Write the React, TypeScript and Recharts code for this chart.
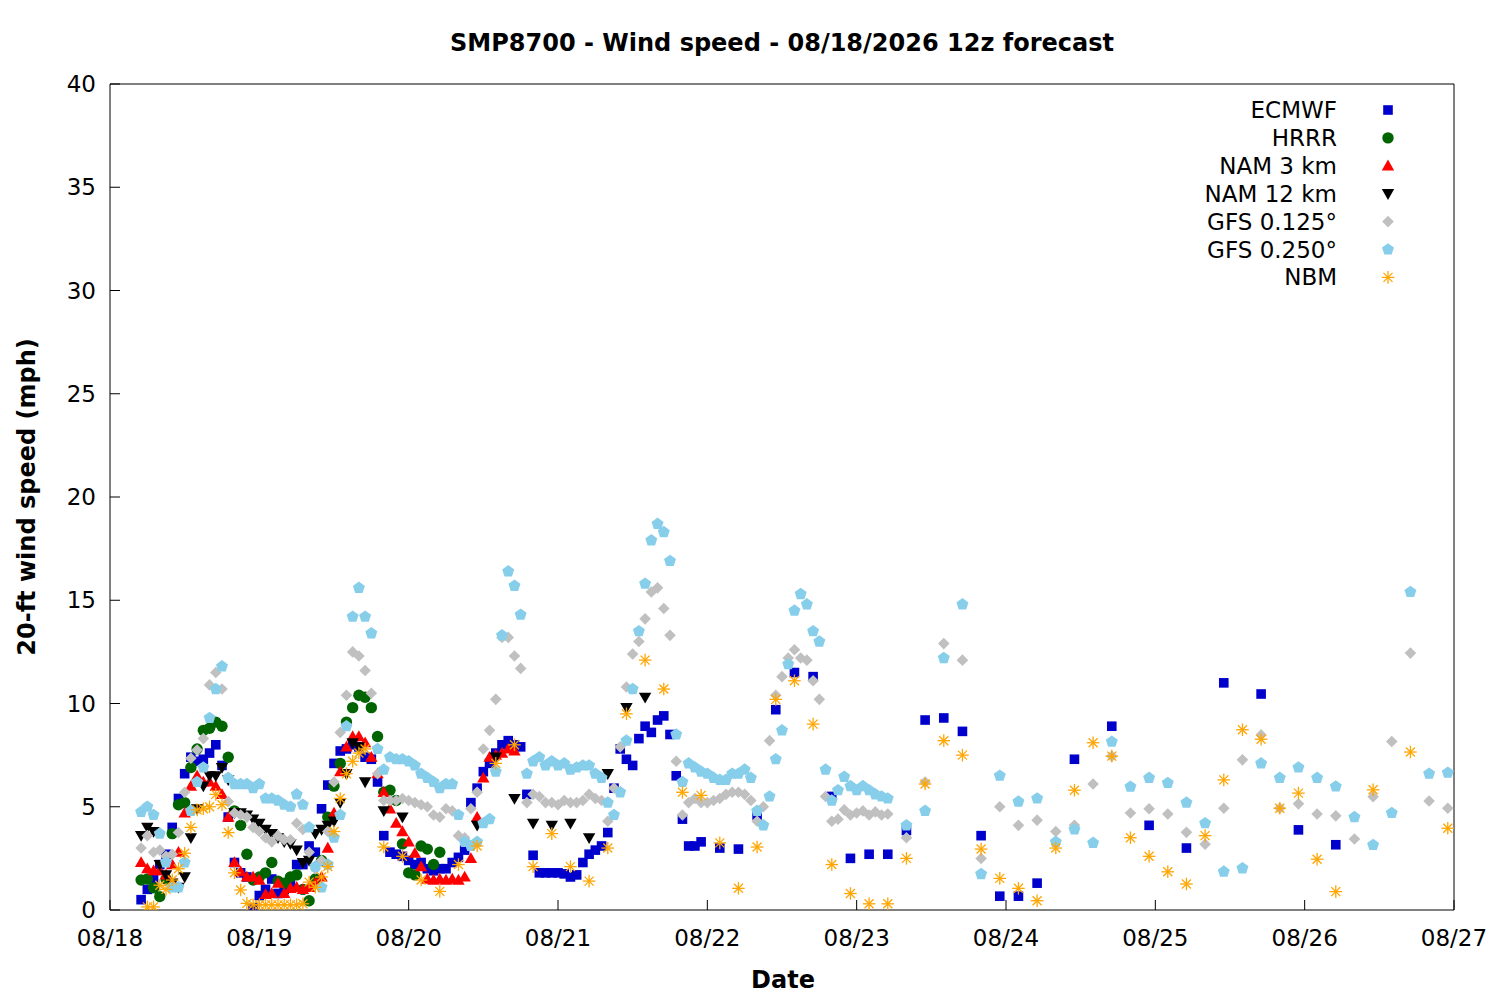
import { ScatterChart, Scatter, XAxis, YAxis, Legend } from "recharts";

// time axis: hours since 08/18 00:00 local
const dayTicks = [0, 24, 48, 72, 96, 120, 144, 168, 192, 216];
const dayLabels = ["08/18", "08/19", "08/20", "08/21", "08/22", "08/23", "08/24", "08/25", "08/26", "08/27"];
const speedTicks = [0, 5, 10, 15, 20, 25, 30, 35, 40];

// ECMWF: hourly from h5, then 3-hourly from h98, then 6-hourly from h155
const ecmwfHourly = [
  0.5, 1.0, 1.5, 2.2, 2.7, 4.0, 5.4, 6.6, 7.4, 7.2,
  7.3, 7.6, 8.0, 7.0, 4.5, 2.3, 1.8, 1.6, 0.1, 0.7,
  1.0, 1.5, 0.8, 1.0, 1.3, 2.2, 2.2, 3.1, 2.8, 4.9,
  6.05, 7.1, 7.7, 7.8, 8.0, 7.9, 7.4, 7.3, 6.2, 3.6,
  2.8, 2.7, 2.6, 2.4, 2.2, 2.3, 2.0, 1.9, 2.0, 2.0,
  2.3, 2.55, 2.9, 5.2, 5.9, 6.7, 7.1, 7.6, 8.0, 8.2,
  8.0, 7.9, 5.6, 2.65, 1.8, 1.8, 1.8, 1.8, 1.75, 1.6,
  1.7, 2.3, 2.7, 2.9, 3.1, 3.75, 5.9, 7.8, 7.3, 7.0,
  8.3, 8.9, 8.6, 9.2, 9.4, 8.5, 6.5, 4.4, 3.1, 3.1,
  3.3,
];
const ecmwf3h = [3.0, 2.95, 4.6, 9.7, 11.5, 11.3, 5.5, 2.5, 2.7, 2.7, 3.85, 9.2, 9.3, 8.65, 3.6, 0.67, 0.67, 1.3];
const ecmwf6h = [7.3, 8.9, 4.1, 3.0, 11.0, 10.46, 3.88, 3.16];

// HRRR: hourly from h5
const hrrrHourly = [
  1.45, 1.5, 1.07, 0.65, 1.5, 3.7, 5.1, 5.2, 6.9, 7.8,
  8.7, 8.8, 9.1, 8.9, 7.4, 4.8, 4.1, 2.7, 1.45, 1.6,
  1.8, 2.3, 1.4, 1.3, 1.6, 1.7, 1.0, 0.45, 1.5, 2.4,
  4.5, 6.0, 7.1, 9.1, 9.8, 10.4, 10.3, 9.8, 8.4, 5.7,
  5.8, 5.3, 3.2, 1.8, 1.7, 3.1, 2.95, 2.2, 2.8,
];

// NAM 3 km: hourly from h5
const nam3Hourly = [
  2.3, 2.0, 1.9, 1.9, 1.7, 2.2, 2.8, 4.7, 6.0, 6.5,
  6.2, 6.2, 6.0, 5.6, 4.5, 2.3, 1.86, 1.6, 1.6, 1.45,
  0.75, 0.8, 1.3, 0.8, 1.05, 1.1, 1.0, 1.1, 1.3, 1.6,
  3.0, 4.7, 6.7, 7.9, 8.4, 8.4, 8.1, 7.4, 6.6, 5.7,
  4.9, 4.2, 3.8, 3.3, 2.75, 2.1, 1.5, 1.45, 1.5, 1.45,
  1.5, 1.45, 1.6, 2.5, 4.5, 6.4, 7.4, 7.5, 7.6, 7.8,
  7.7,
];

// NAM 12 km: hourly from h5, then 3-hourly points
const nam12Hourly = [
  3.6, 4.0, 3.8, 2.2, 1.7, 1.3, 1.1, 1.6, 3.5, 4.9,
  6.0, 6.5, 6.5, 6.9, 6.3, 4.7, 4.7, 4.6, 4.4, 4.2,
  3.9, 3.7, 3.5, 3.3, 3.2, 2.9, 2.3, 2.4, 3.7, 3.9,
  4.1, 4.3, 5.2, 6.6, 8.1, 7.9, 6.2,
];
const nam12LateHours = [44, 47, 59, 62, 65, 68, 71, 74, 77, 80, 83, 86];
const nam12LateValues = [4.8, 4.5, 4.1, 7.4, 5.4, 4.2, 4.1, 4.2, 3.5, 6.6, 9.8, 10.3];

// GFS 0.125: hourly from h5, 3-hourly from h128
const gfs125Hourly = [
  3.0, 3.6, 2.8, 2.9, 2.6, 2.7, 3.75, 5.7, 7.35, 7.75,
  8.3, 10.9, 11.5, 10.7, 5.25, 4.7, 4.6, 4.5, 4.0, 3.8,
  3.5, 3.3, 3.6, 3.4, 3.4, 4.2, 3.9, 2.8, 2.0, 2.4,
  3.8, 6.2, 8.6, 10.4, 12.5, 12.3, 11.6, 10.5, 6.6, 5.3,
  5.3, 5.3, 5.4, 5.3, 5.2, 5.1, 5.0, 4.6, 4.5, 4.9,
  4.8, 3.6, 3.5, 4.9, 5.7, 7.8, 8.7, 10.2, 13.2, 13.2,
  12.3, 11.7, 5.2, 5.6, 5.5, 5.2, 5.2, 5.1, 5.3, 5.2,
  5.2, 5.3, 5.6, 5.4, 5.3, 4.3, 5.9, 7.9, 10.8, 12.4,
  13.0, 14.1, 15.4, 15.6, 14.6, 13.3, 7.2, 4.6, 5.2, 5.4,
  5.2, 5.2, 5.3, 5.4, 5.6, 5.7, 5.7, 5.6, 5.3, 4.3,
  5.0, 8.2, 10.4, 11.3, 12.2, 12.6, 12.2, 12.1, 11.1, 10.2,
  5.5, 4.3, 4.4, 4.85, 4.6, 4.7, 4.8, 4.6, 4.75, 4.6,
  4.65,
];
const gfs125_3h = [
  3.5, 6.2, 12.9, 12.1, 2.5, 5.0, 4.1, 4.35, 3.8, 4.1,
  6.1, 7.45, 4.7, 4.9, 4.65, 3.76, 3.19, 4.93, 7.27, 8.48,
  4.93, 5.14, 4.65, 4.56, 3.44, 5.49, 8.16, 12.44, 5.28, 4.93,
];

// GFS 0.250: hourly from h5, 3-hourly from h128
const gfs250Hourly = [
  4.75, 5.0, 4.6, 3.7, 2.3, 1.1, 1.1, 2.3, 4.8, 6.2,
  6.9, 9.3, 10.7, 11.8, 6.4, 6.1, 6.1, 6.1, 5.9, 6.1,
  5.4, 5.4, 5.3, 5.1, 5.0, 5.6, 5.1, 4.0, 2.1, 1.1,
  2.2, 3.5, 4.6, 8.9, 14.2, 15.6, 14.2, 13.4, 7.8, 6.8,
  7.4, 7.3, 7.3, 7.2, 7.0, 6.6, 6.4, 6.2, 5.9, 6.1,
  6.1, 4.6, 3.3, 3.1, 3.3, 4.2, 4.4, 6.7, 13.3, 16.4,
  15.7, 14.3, 6.6, 7.2, 7.4, 7.0, 7.2, 7.0, 7.1, 6.8,
  6.9, 7.0, 7.0, 6.6, 6.4, 5.2, 4.6, 5.7, 8.2, 10.7,
  13.5, 15.8, 17.9, 18.7, 18.3, 16.9, 8.5, 6.2, 7.1, 6.9,
  6.7, 6.6, 6.4, 6.3, 6.3, 6.6, 6.6, 6.8, 6.4, 4.8,
  4.1, 5.5, 7.3, 8.7, 11.9, 14.5, 15.3, 14.8, 13.5, 13.0,
  6.8, 5.3, 5.8, 6.45, 6.0, 5.8, 6.0, 5.8, 5.6, 5.5,
  5.4,
];
const gfs250_3h = [
  4.1, 4.8, 12.2, 14.8, 1.74, 6.5, 5.25, 5.4, 3.3, 3.9,
  3.25, 8.15, 5.97, 6.4, 6.15, 5.2, 4.2, 1.86, 2.02, 7.1,
  6.4, 6.9, 6.4, 5.98, 4.5, 3.15, 4.7, 15.4, 6.6, 6.65,
];

// NBM: hourly from h6, 3-hourly from h44, 6-hourly from h203
const nbmHourly = [
  0.15, 0.15, 1.2, 1.0, 1.45, 2.0, 2.75, 4.0, 4.85, 4.9,
  5.0, 5.6, 5.1, 3.75, 1.8, 0.97, 0.32, 0.25, 0.25, 0.25,
  0.25, 0.25, 0.25, 0.25, 0.25, 0.3, 1.35, 1.1, 1.6, 2.1,
  3.8, 5.4, 6.6, 7.2, 7.6, 7.8,
];
const nbm3h = [
  3.05, 2.6, 1.45, 0.9, 2.2, 3.1, 7.1, 8.0, 2.1, 3.7,
  2.1, 1.4, 3.0, 9.5, 12.1, 10.7, 5.7, 5.55, 3.25, 1.05,
  3.05, 10.2, 11.1, 9.0, 2.2, 0.8, 0.3, 0.3, 2.5, 6.1,
  8.2, 7.5, 2.95, 1.53, 1.05, 0.45, 3.0, 5.8, 8.1, 7.45,
  3.5, 2.6, 1.85, 1.26, 3.6, 6.3, 8.73, 8.27, 4.93, 5.66,
  2.46, 0.89,
];
const nbm6h = [5.82, 7.65, 3.96];

type Pt = { h: number; v: number };
const run = (start: number, step: number, values: number[]): Pt[] =>
  values.map((v, i) => ({ h: start + i * step, v }));

const seriesList = [
  { name: "ECMWF", kind: "square", color: "#0000cc", data: [...run(5, 1, ecmwfHourly), ...run(98, 3, ecmwf3h), ...run(155, 6, ecmwf6h)] },
  { name: "HRRR", kind: "circle", color: "#006400", data: run(5, 1, hrrrHourly) },
  { name: "NAM 3 km", kind: "up", color: "#ff0000", data: run(5, 1, nam3Hourly) },
  { name: "NAM 12 km", kind: "down", color: "#000000", data: [...run(5, 1, nam12Hourly), ...nam12LateHours.map((h, i) => ({ h, v: nam12LateValues[i] }))] },
  { name: "GFS 0.125°", kind: "diamond", color: "#c0c0c0", data: [...run(5, 1, gfs125Hourly), ...run(128, 3, gfs125_3h)] },
  { name: "GFS 0.250°", kind: "pentagon", color: "#87ceeb", data: [...run(5, 1, gfs250Hourly), ...run(128, 3, gfs250_3h)] },
  { name: "NBM", kind: "star", color: "#ffa500", data: [...run(6, 1, nbmHourly), ...run(44, 3, nbm3h), ...run(203, 6, nbm6h)] },
];

const Marker = ({ kind, color, cx, cy }: { kind: string; color: string; cx: number; cy: number }) => {
  if (cx == null || cy == null) return null;
  switch (kind) {
    case "square":
      return <rect x={cx - 4.8} y={cy - 4.8} width={9.6} height={9.6} fill={color} />;
    case "circle":
      return <circle cx={cx} cy={cy} r={5.7} fill={color} />;
    case "up":
      return <polygon points={`${cx},${cy - 6.2} ${cx + 6.2},${cy + 4.6} ${cx - 6.2},${cy + 4.6}`} fill={color} />;
    case "down":
      return <polygon points={`${cx - 6.2},${cy - 4.6} ${cx + 6.2},${cy - 4.6} ${cx},${cy + 6.2}`} fill={color} />;
    case "diamond":
      return <polygon points={`${cx},${cy - 5.8} ${cx + 5.8},${cy} ${cx},${cy + 5.8} ${cx - 5.8},${cy}`} fill={color} />;
    case "pentagon": {
      const pts = [0, 1, 2, 3, 4]
        .map((k) => {
          const a = ((-90 + 72 * k) * Math.PI) / 180;
          return `${cx + 6.3 * Math.cos(a)},${cy + 6.3 * Math.sin(a)}`;
        })
        .join(" ");
      return <polygon points={pts} fill={color} />;
    }
    default:
      return (
        <g stroke={color} strokeWidth={1.3}>
          <line x1={cx - 6.3} y1={cy} x2={cx + 6.3} y2={cy} />
          <line x1={cx} y1={cy - 6.3} x2={cx} y2={cy + 6.3} />
          <line x1={cx - 4.5} y1={cy - 4.5} x2={cx + 4.5} y2={cy + 4.5} />
          <line x1={cx - 4.5} y1={cy + 4.5} x2={cx + 4.5} y2={cy - 4.5} />
        </g>
      );
  }
};

const tickStyle = { fill: "#000", fontSize: 23, fontFamily: "DejaVu Sans" };

const LegendBox = () => (
  <svg width={300} height={200} style={{ fontFamily: "DejaVu Sans" }}>
    {seriesList.map((s, i) => (
      <g key={s.name}>
        <text x={237} y={14 + i * 27.9} dy="0.35em" textAnchor="end" fontSize={23} fill="#000">
          {s.name}
        </text>
        <Marker kind={s.kind} color={s.color} cx={288} cy={14 + i * 27.9} />
      </g>
    ))}
  </svg>
);

const App = () => {
  return (
    <div style={{ position: "relative", width: 1484, height: 984, fontFamily: "DejaVu Sans" }}>
      <ScatterChart width={1484} height={984} margin={{ top: 75, right: 37, bottom: 52, left: 42 }}>
        <XAxis
          type="number"
          dataKey="h"
          domain={[0, 216]}
          ticks={dayTicks}
          tickFormatter={(h: number) => dayLabels[dayTicks.indexOf(h)]}
          height={30}
          tickSize={-10}
          tickMargin={30}
          axisLine={{ stroke: "#000" }}
          tickLine={{ stroke: "#000" }}
          tick={tickStyle}
          allowDataOverflow
        />
        <XAxis
          xAxisId="top"
          orientation="top"
          type="number"
          dataKey="h"
          domain={[0, 216]}
          ticks={dayTicks}
          height={1}
          tickSize={-10}
          axisLine={{ stroke: "#000" }}
          tickLine={{ stroke: "#000" }}
          tick={false}
        />
        <YAxis
          type="number"
          dataKey="v"
          domain={[0, 40]}
          ticks={speedTicks}
          width={60}
          tickSize={-10}
          tickMargin={24}
          axisLine={{ stroke: "#000" }}
          tickLine={{ stroke: "#000" }}
          tick={tickStyle}
          allowDataOverflow
        />
        <YAxis
          yAxisId="right"
          orientation="right"
          type="number"
          dataKey="v"
          domain={[0, 40]}
          ticks={speedTicks}
          width={1}
          tickSize={-10}
          axisLine={{ stroke: "#000" }}
          tickLine={{ stroke: "#000" }}
          tick={false}
        />
        {seriesList.map((s) => (
          <Scatter
            key={s.name}
            name={s.name}
            data={s.data}
            fill={s.color}
            isAnimationActive={false}
            shape={(p: any) => <Marker kind={s.kind} color={s.color} cx={p.cx} cy={p.cy} />}
          />
        ))}
        <Legend
          layout="horizontal"
          verticalAlign="middle"
          align="center"
          content={() => <LegendBox />}
          wrapperStyle={{ position: "absolute", left: 1092, top: 88, width: 300, height: 200 }}
        />
      </ScatterChart>
      <div
        style={{
          position: "absolute",
          left: 774,
          top: 35,
          transform: "translate(-50%, -50%)",
          fontWeight: "bold",
          fontSize: 24,
          whiteSpace: "nowrap",
        }}
      >
        SMP8700 - Wind speed - 08/18/2026 12z forecast
      </div>
      <div
        style={{
          position: "absolute",
          left: 19,
          top: 489,
          transform: "translate(-50%, -50%) rotate(-90deg)",
          fontWeight: "bold",
          fontSize: 24,
          whiteSpace: "nowrap",
        }}
      >
        20-ft wind speed (mph)
      </div>
      <div
        style={{
          position: "absolute",
          left: 775,
          top: 972,
          transform: "translate(-50%, -50%)",
          fontWeight: "bold",
          fontSize: 24,
          whiteSpace: "nowrap",
        }}
      >
        Date
      </div>
    </div>
  );
};

export default App;
